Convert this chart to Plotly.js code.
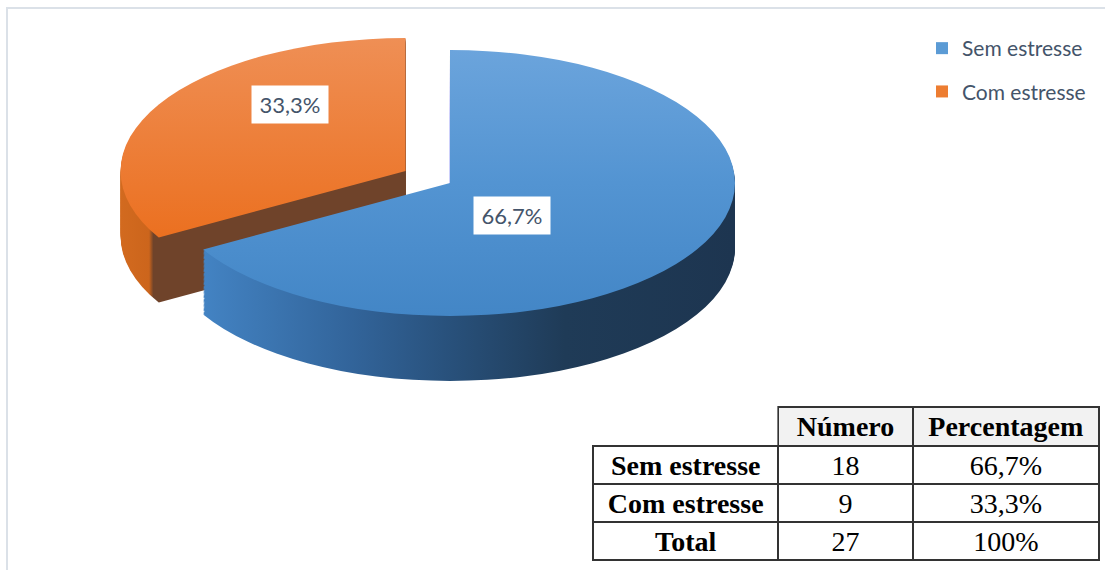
<!DOCTYPE html>
<html>
<head>
<meta charset="utf-8">
<script src="https://cdn.plot.ly/plotly-3.0.1.min.js"></script>
<style>
  html, body { margin: 0; padding: 0; background: #ffffff; }
  #chart { width: 1105px; height: 570px; }
</style>
</head>
<body>
<div id="chart"></div>
<script>
// ---------- data ----------
const categories = ['Sem estresse', 'Com estresse'];
const counts = [18, 9];
const tableHeader = ['', 'Número', 'Percentagem'];
const totalLabel = 'Total';

// ---------- derived values ----------
const total = counts.reduce((a, b) => a + b, 0);
const pctText = v => (v / total * 100).toFixed(1).replace('.', ',') + '%';
const percentLabels = counts.map(pctText);
const totalPercent = (counts.reduce((a, b) => a + b, 0) / total * 100).toFixed(0) + '%';

// ---------- geometry / style ----------
const W = 1105, H = 570;
const S = 400, boxLeft = 100, boxTop = 20;     // pre-transform pie box (px)
const pullOut = 0.18;
const rPre = (S / 2) / (1 + pullOut);
const target = { cx: 450, cy: 183, a: 285, b: 133, depth: 65 };
const sx = target.a / rPre, sy = target.b / rPre;
const depthPre = target.depth / sy;
const nLayers = 50;

const topColors = ['#5b9bd5', '#ed7d31'];
const sideColors = ['#2a5480', '#6f432a'];

function pieLayer(offset, colors, isTop) {
  return {
    type: 'pie',
    labels: categories,
    values: counts,
    sort: false,
    direction: 'clockwise',
    rotation: 0,
    pull: [0, pullOut],
    marker: { colors: colors, line: { width: 0 } },
    textinfo: 'none',
    hoverinfo: 'skip',
    showlegend: isTop,
    domain: {
      x: [boxLeft / W, (boxLeft + S) / W],
      y: [1 - (boxTop + offset + S) / H, 1 - (boxTop + offset) / H]
    }
  };
}

const traces = [];
for (let k = nLayers; k >= 1; k--) {
  traces.push(pieLayer(depthPre * k / nLayers, sideColors, false));
}
traces.push(pieLayer(0, topColors, true));

// table
const rowLabels = categories.concat([totalLabel]);
const rowCounts = counts.map(String).concat([String(total)]);
const rowPercents = percentLabels.concat([totalPercent]);
const tableTop = 407;
traces.push({
  type: 'table',
  domain: { x: [593 / W, 1099 / W], y: [0, 1 - tableTop / H] },
  columnwidth: [185, 134, 186],
  header: {
    values: tableHeader,
    height: 39,
    align: 'center',
    fill: { color: ['rgba(0,0,0,0)', '#f2f2f2', '#f2f2f2'] },
    line: { color: ['rgba(0,0,0,0)', '#333333', '#333333'], width: 2 },
    font: { family: 'Liberation Serif, serif', size: 28, color: '#000000', weight: 'bold' }
  },
  cells: {
    values: [rowLabels, rowCounts, rowPercents],
    height: 38,
    align: 'center',
    fill: { color: '#ffffff' },
    line: { color: '#333333', width: 2 },
    font: { family: 'Liberation Serif, serif', size: 28, color: '#000000', weight: ['bold', 'normal', 'normal'] }
  }
});

const labelFont = { family: 'Lato, sans-serif', size: 22, color: '#44546a' };
const legendFont = { family: 'Lato, sans-serif', size: 21, color: '#44546a' };
const layout = {
  width: W, height: H,
  margin: { l: 0, r: 0, t: 0, b: 0 },
  paper_bgcolor: '#ffffff',
  showlegend: true,
  legend: {
    x: 922 / W, y: 1 - 28 / H, xanchor: 'left', yanchor: 'top',
    font: legendFont, bgcolor: 'rgba(0,0,0,0)'
  },
  annotations: [
    { text: percentLabels[0], xref: 'paper', yref: 'paper', x: 512 / W, y: 1 - 215 / H,
      xanchor: 'center', yanchor: 'middle',
      showarrow: false, font: labelFont, bgcolor: '#ffffff', borderpad: 4, width: 68, height: 29 },
    { text: percentLabels[1], xref: 'paper', yref: 'paper', x: 290 / W, y: 1 - 104 / H,
      xanchor: 'center', yanchor: 'middle',
      showarrow: false, font: labelFont, bgcolor: '#ffffff', borderpad: 4, width: 68, height: 29 }
  ],
  shapes: [
    { type: 'rect', xref: 'paper', yref: 'paper', x0: 7 / W, x1: 1.05, y0: -0.05, y1: 1 - 8 / H,
      line: { color: '#dbe1e8', width: 2 }, fillcolor: 'rgba(0,0,0,0)', layer: 'below' }
  ]
};

function addGradient(defs, id, horizontal, stops) {
  const ns = 'http://www.w3.org/2000/svg';
  const g = document.createElementNS(ns, 'linearGradient');
  g.setAttribute('id', id);
  g.setAttribute('x1', '0'); g.setAttribute('y1', '0');
  g.setAttribute('x2', horizontal ? '1' : '0'); g.setAttribute('y2', horizontal ? '0' : '1');
  stops.forEach(s => {
    const st = document.createElementNS(ns, 'stop');
    st.setAttribute('offset', s[0]);
    st.setAttribute('stop-color', s[1]);
    g.appendChild(st);
  });
  defs.appendChild(g);
}

const gd = document.getElementById('chart');
Plotly.newPlot(gd, traces, layout, { displayModeBar: false, staticPlot: true }).then(() => {
  const svg = gd.querySelector('svg.main-svg');
  let defs = svg.querySelector('defs');
  if (!defs) { defs = document.createElementNS('http://www.w3.org/2000/svg', 'defs'); svg.insertBefore(defs, svg.firstChild); }
  addGradient(defs, 'gBlueTop', false, [[0, '#6ba4dc'], [0.5, '#5394d2'], [1, '#4386c6']]);
  addGradient(defs, 'gOrangeTop', false, [[0, '#ef8f55'], [1, '#eb7020']]);
  addGradient(defs, 'gBlueSide', true, [[0, '#4383c3'], [0.28, '#32649a'], [0.47, '#28507a'], [0.68, '#1f3b57'], [1, '#1d3550']]);
  addGradient(defs, 'gOrangeSide', true, [[0, '#d26a1f'], [0.1, '#cc651c'], [0.115, '#6f432a'], [1, '#6f432a']]);

  // squash the circular pies into the tilted ellipse
  const topCd = gd.calcdata[nLayers][0];
  const layer = svg.querySelector('.pielayer');
  const tx = target.cx - sx * topCd.cx, ty = target.cy - sy * topCd.cy;
  layer.setAttribute('transform', 'translate(' + tx + ',' + ty + ') scale(' + sx + ',' + sy + ')');

  const traceGroups = layer.querySelectorAll('.trace');
  traceGroups.forEach((tg, i) => {
    const paths = tg.querySelectorAll('.slice path.surface');
    const isTop = i === traceGroups.length - 1;
    if (paths[0]) paths[0].style.fill = isTop ? 'url(#gBlueTop)' : 'url(#gBlueSide)';
    if (paths[1]) paths[1].style.fill = isTop ? 'url(#gOrangeTop)' : 'url(#gOrangeSide)';
  });

  // legend item spacing
  const legend = svg.parentNode.parentNode.querySelector('.legend');
  if (legend) {
    const sb = legend.querySelector('.scrollbox');
    if (sb) sb.removeAttribute('clip-path');
    legend.querySelectorAll('.traces').forEach((t, i) => {
      const tr = t.getAttribute('transform') || '';
      const m = tr.match(/translate\(([-\d.]+)[ ,]+([-\d.]+)\)/);
      if (m) t.setAttribute('transform', 'translate(' + m[1] + ',' + (parseFloat(m[2]) + i * 13) + ')');
    });
  }
});
</script>
</body>
</html>
